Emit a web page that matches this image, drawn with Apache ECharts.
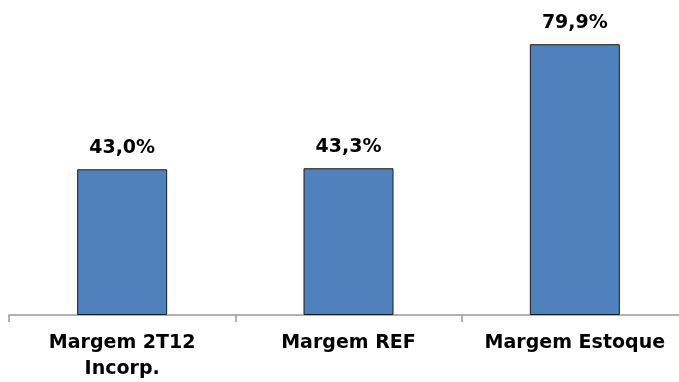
<!DOCTYPE html>
<html>
<head>
<meta charset="utf-8">
<script src="https://cdn.jsdelivr.net/npm/echarts@6/dist/echarts.min.js"></script>
<style>
    html, body { margin: 0; padding: 0; background: #fff; }
    #chart { width: 679px; height: 382px; }
</style>
</head>
<body>
<div id="chart"></div>
<script>
var categories = ['Margem 2T12\nIncorp.', 'Margem REF', 'Margem Estoque'];
var margins = [43.0, 43.3, 79.9];

var myChart = echarts.init(document.getElementById('chart'));
myChart.setOption({
    animation: false,
    backgroundColor: '#fff',
    grid: {
        left: 9,
        width: 679,
        top: 10,
        bottom: 67,
        outerBoundsMode: 'none',
        containLabel: false
    },
    xAxis: {
        type: 'category',
        data: categories,
        axisLine: { lineStyle: { color: '#999', width: 1.5 } },
        axisTick: { show: true, length: 7, lineStyle: { color: '#999', width: 1.5 } },
        axisLabel: {
            interval: 0,
            margin: 15,
            color: '#000',
            fontFamily: 'DejaVu Sans',
            fontWeight: 'bold',
            fontSize: 19,
            lineHeight: 26
        }
    },
    yAxis: {
        type: 'value',
        min: 0,
        max: 90,
        show: false,
        splitLine: { show: false }
    },
    series: [
        {
            type: 'bar',
            data: margins,
            barWidth: 90,
            itemStyle: {
                color: '#4F81BD',
                borderColor: '#1a1a1a',
                borderWidth: 1
            },
            label: {
                show: true,
                position: 'top',
                distance: 12,
                color: '#000',
                fontFamily: 'DejaVu Sans',
                fontWeight: 'bold',
                fontSize: 19,
                formatter: function (p) {
                    return p.value.toFixed(1).replace('.', ',') + '%';
                }
            }
        }
    ]
});
</script>
</body>
</html>
